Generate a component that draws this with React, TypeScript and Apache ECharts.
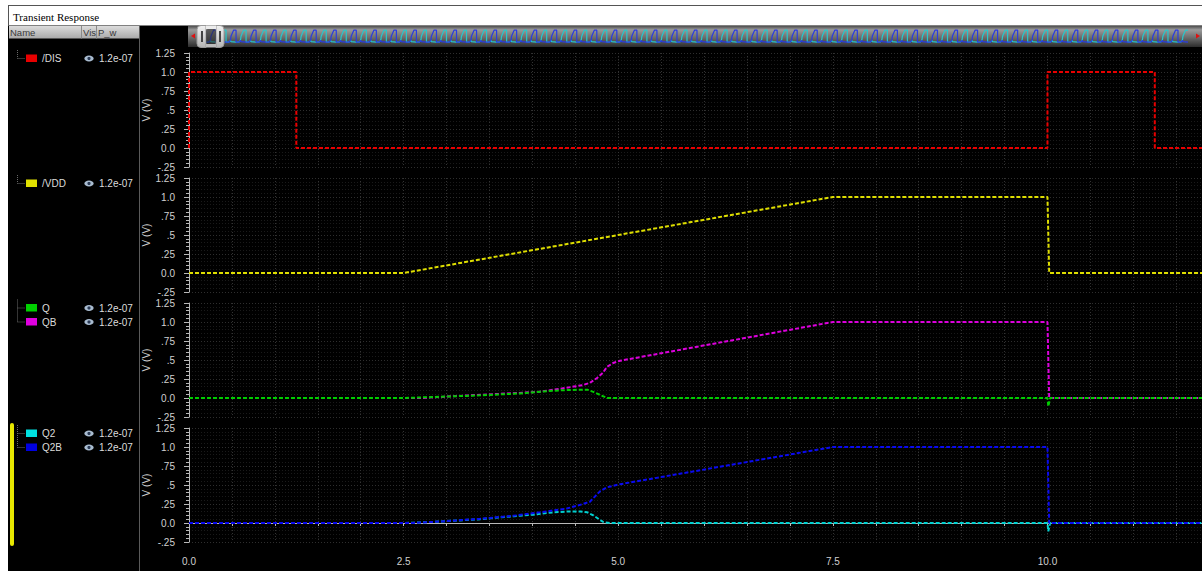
import React, { useEffect, useRef } from "react";
import * as echarts from "echarts";

// ---------------- data ----------------
const timeMax = 11.8;
const xLabelValues = [0, 2.5, 5, 7.5, 10];
const xLabelTexts = ["0.0", "2.5", "5.0", "7.5", "10.0"];
const yTickValues = [-0.25, 0, 0.25, 0.5, 0.75, 1, 1.25];
const yTickTexts = ["-.25", "0.0", ".25", ".5", ".75", "1.0", "1.25"];

const disT = [0, 0, 1.25, 1.25, 10, 10, 11.25, 11.25, 11.8];
const disV = [0, 1, 1, 0, 0, 1, 1, 0, 0];

const vddT = [0, 2.5, 7.5, 10, 10.02, 11.8];
const vddV = [0, 0, 1, 1, 0, 0];

const qT = [0, 2.5, 2.77, 3.39, 3.86, 4.17, 4.4, 4.64, 4.71, 4.79, 4.87, 10, 10.01, 10.03, 11.8];
const qV = [0, 0, 0.01, 0.035, 0.06, 0.09, 0.105, 0.11, 0.08, 0.04, 0, 0, -0.11, 0, 0];

const qbT = [0, 2.7, 3.12, 3.54, 4.06, 4.32, 4.48, 4.59, 4.67, 4.75, 4.82, 4.87, 4.94, 5.02, 7.5, 10, 10.02, 11.8];
const qbV = [0, 0, 0.026, 0.05, 0.08, 0.12, 0.15, 0.17, 0.2, 0.26, 0.33, 0.41, 0.46, 0.49, 1, 1, 0, 0];

const q2T = [0, 2.5, 2.77, 3.39, 3.78, 4.01, 4.24, 4.4, 4.56, 4.64, 4.71, 4.79, 4.83, 4.9, 10, 10.01, 10.03, 11.8];
const q2V = [0, 0, 0.01, 0.05, 0.09, 0.11, 0.14, 0.15, 0.15, 0.14, 0.1, 0.04, 0.01, 0, 0, -0.11, 0, 0];

const q2bT = [0, 2.6, 2.93, 3.39, 3.78, 4.09, 4.4, 4.59, 4.67, 4.73, 4.79, 4.87, 5.02, 7.5, 10, 10.02, 11.8];
const q2bV = [0, 0, 0.02, 0.055, 0.095, 0.14, 0.19, 0.25, 0.28, 0.35, 0.42, 0.47, 0.51, 1, 1, 0, 0];

// overview strip: Q2 / Q2B cycles alternate along the whole run
const overviewCycles = 98;
const overviewPeriod = 10;

const legendNames = ["/DIS", "/VDD", "Q", "QB", "Q2", "Q2B"];
const legendPanels = [0, 1, 2, 2, 3, 3];
const legendValue = "1.2e-07";
const seriesColors = ["#e80000", "#dede00", "#00cc00", "#dc00dc", "#00d0d0", "#0a0af0"];
const swatchColors = ["#e80000", "#e0e000", "#00d000", "#e000e0", "#00e0e0", "#0000e0"];

const titleText = "Transient Response";
const headerTexts = ["Name", "Vis", "P_w"];
const yAxisName = "V (V)";

// ---------------- helpers ----------------
const zip = (t: number[], v: number[]) => t.map((x, i) => [x, v[i]]);

function overviewLine(firstActive: boolean) {
  const active = zip(q2bT, q2bV).filter((p) => p[0] <= overviewPeriod);
  const idle = zip(q2T, q2V).filter((p) => p[0] <= overviewPeriod);
  const out: number[][] = [];
  for (let k = 0; k < overviewCycles; k++) {
    const isActive = (k % 2 === 0) === firstActive;
    const shape = isActive ? active : idle;
    shape.forEach((p) => out.push([p[0] + k * overviewPeriod, p[1]]));
  }
  return out;
}

const FONT = "Liberation Sans";

export default function App() {
  const ref = useRef<HTMLDivElement>(null);

  useEffect(() => {
    if (!ref.current) return;
    const chart = echarts.init(ref.current, null, { renderer: "svg" });

    const panelTops = [53, 178, 303, 428];
    const panelH = 114;
    const gridLeft = 189;

    const grids: any[] = panelTops.map((t) => ({ left: gridLeft, top: t, width: 1202 - gridLeft, height: panelH }));
    grids.push({ left: 206, top: 29, width: 982, height: 15 });

    const xAxes: any[] = panelTops.map((_, i) => ({
      type: "value",
      gridIndex: i,
      min: 0,
      max: timeMax,
      interval: 0.5,
      offset: i === 3 ? 5 : 0,
      axisLine: { show: i === 3, lineStyle: { color: "#b8b8b8", width: 1 } },
      axisTick: { show: i === 3, length: 3, lineStyle: { color: "#b8b8b8" } },
      axisLabel: {
        show: i === 3,
        color: "#d0d0d0",
        fontSize: 10,
        fontFamily: FONT,
        margin: 9,
        showMaxLabel: false,
        formatter: (v: number) => {
          const k = xLabelValues.findIndex((x) => Math.abs(x - v) < 1e-6);
          return k >= 0 ? xLabelTexts[k] : "";
        },
      },
      splitLine: { show: true, lineStyle: { color: "#333333", type: [1, 2], width: 1 } },
    }));
    xAxes.push({ type: "value", gridIndex: 4, min: 0, max: overviewCycles * overviewPeriod, show: false });

    const yAxes: any[] = panelTops.map((_, i) => ({
      type: "value",
      gridIndex: i,
      min: -0.25,
      max: 1.25,
      interval: 0.25,
      offset: 6,
      name: yAxisName,
      nameLocation: "middle",
      nameGap: 32,
      nameMoveOverlap: false,
      nameTextStyle: { color: "#d0d0d0", fontSize: 10, fontFamily: FONT },
      axisLine: { show: true, lineStyle: { color: "#b8b8b8", width: 1 } },
      axisTick: { show: true, length: 5, lineStyle: { color: "#b8b8b8" } },
      minorTick: { show: true, splitNumber: 5, length: 3, lineStyle: { color: "#b8b8b8" } },
      axisLabel: {
        color: "#d0d0d0",
        fontSize: 10,
        fontFamily: FONT,
        margin: 8,
        formatter: (v: number) => {
          const k = yTickValues.findIndex((x) => Math.abs(x - v) < 1e-6);
          return k >= 0 ? yTickTexts[k] : "";
        },
      },
      splitLine: { show: true, lineStyle: { color: "#2e2e2e", type: [1, 2], width: 1 } },
      minorSplitLine: { show: true, lineStyle: { color: "#1a1a1a", type: [1, 2], width: 1 } },
    }));
    yAxes.push({ type: "value", gridIndex: 4, min: -0.15, max: 1.1, show: false });

    const mk = (name: string, idx: number, data: number[][], color: string, z = 2) => ({
      type: "line",
      name,
      xAxisIndex: idx,
      yAxisIndex: idx,
      data,
      showSymbol: false,
      symbol: "none",
      clip: false,
      z,
      lineStyle: { color, width: 2, type: [4, 2] },
    });

    const series: any[] = [
      mk(legendNames[0], 0, zip(disT, disV), seriesColors[0]),
      mk(legendNames[1], 1, zip(vddT, vddV), seriesColors[1]),
      mk(legendNames[3], 2, zip(qbT, qbV), seriesColors[3]),
      mk(legendNames[2], 2, zip(qT, qV), seriesColors[2], 3),
      mk(legendNames[4], 3, zip(q2T, q2V), seriesColors[4], 2),
      mk(legendNames[5], 3, zip(q2bT, q2bV), seriesColors[5], 3),
      {
        type: "line",
        xAxisIndex: 4,
        yAxisIndex: 4,
        data: overviewLine(false),
        showSymbol: false,
        symbol: "none",
        lineStyle: { color: "#26c8cc", width: 1.2 },
        z: 3,
      },
      {
        type: "line",
        xAxisIndex: 4,
        yAxisIndex: 4,
        data: overviewLine(true),
        showSymbol: false,
        symbol: "none",
        lineStyle: { color: "#2a3ce0", width: 1.2 },
        z: 3,
      },
    ];

    // -------- chrome (graphic) --------
    const g: any[] = [];
    g.push({ type: "rect", shape: { x: 0, y: 0, width: 1202, height: 25.5 }, style: { fill: "#ffffff" }, z: 0 });
    g.push({ type: "rect", shape: { x: 0, y: 0, width: 8, height: 571 }, style: { fill: "#ffffff" }, z: 0 });
    g.push({ type: "line", shape: { x1: 8, y1: 5.5, x2: 1202, y2: 5.5 }, style: { stroke: "#555", lineWidth: 1 }, z: 1 });
    g.push({ type: "line", shape: { x1: 8.5, y1: 5, x2: 8.5, y2: 26 }, style: { stroke: "#555", lineWidth: 1 }, z: 1 });
    g.push({
      type: "text",
      x: 13,
      y: 17,
      style: { text: titleText, fill: "#000", font: "11px 'Liberation Serif'", verticalAlign: "middle" },
      z: 1,
    });
    // header
    g.push({
      type: "rect",
      shape: { x: 9, y: 26, width: 130, height: 12.5 },
      style: {
        fill: new echarts.graphic.LinearGradient(0, 0, 0, 1, [
          { offset: 0, color: "#dcdcdc" },
          { offset: 1, color: "#a9a9a9" },
        ]),
      },
      z: 1,
    });
    [10, 83, 98].forEach((x, i) =>
      g.push({
        type: "text",
        x,
        y: 32,
        style: { text: headerTexts[i], fill: "#3a3a3a", font: `9.5px '${FONT}'`, verticalAlign: "middle" },
        z: 2,
      })
    );
    [81.5, 96.5].forEach((x) =>
      g.push({ type: "line", shape: { x1: x, y1: 26, x2: x, y2: 38.5 }, style: { stroke: "#8a8a8a", lineWidth: 1 }, z: 2 })
    );
    g.push({ type: "line", shape: { x1: 139.5, y1: 26, x2: 139.5, y2: 571 }, style: { stroke: "#5a5a5a", lineWidth: 1 }, z: 1 });

    // legend rows
    const rowStartY = [58, 183, 307.5, 433];
    const rowGap = 14;
    const counter: Record<number, number> = {};
    const groupRows: Record<number, number[]> = {};
    legendNames.forEach((name, i) => {
      const p = legendPanels[i];
      const k = counter[p] || 0;
      counter[p] = k + 1;
      const y = rowStartY[p] + k * rowGap;
      (groupRows[p] = groupRows[p] || []).push(y);
      g.push({ type: "line", shape: { x1: 17.5, y1: y + 0.5, x2: 25, y2: y + 0.5 }, style: { stroke: "#6a6a6a", lineWidth: 1, lineDash: [1, 1] }, z: 2 });
      g.push({ type: "rect", shape: { x: 26, y: y - 3.5, width: 11, height: 7.5 }, style: { fill: swatchColors[i] }, z: 2 });
      g.push({
        type: "text",
        x: 42,
        y: y + 0.5,
        style: { text: name, fill: "#dcdcdc", font: `10px '${FONT}'`, verticalAlign: "middle" },
        z: 2,
      });
      g.push({ type: "ellipse", shape: { cx: 89, cy: y + 0.5, rx: 4.6, ry: 3 }, style: { fill: "#a9bcd0" }, z: 2 });
      g.push({ type: "circle", shape: { cx: 89, cy: y + 0.5, r: 1.6 }, style: { fill: "#2a3a55" }, z: 3 });
      g.push({
        type: "text",
        x: 99,
        y: y + 0.5,
        style: { text: legendValue, fill: "#dcdcdc", font: `10px '${FONT}'`, verticalAlign: "middle" },
        z: 2,
      });
    });
    Object.keys(groupRows).forEach((key) => {
      const ys = groupRows[Number(key)];
      g.push({
        type: "line",
        shape: { x1: 17.5, y1: ys[0] - 8, x2: 17.5, y2: ys[ys.length - 1] + 0.5 },
        style: { stroke: "#6a6a6a", lineWidth: 1, lineDash: [1, 1] },
        z: 2,
      });
    });
    // selected group marker
    g.push({ type: "rect", shape: { x: 10, y: 423, width: 4, height: 123, r: 2 }, style: { fill: "#e8e800" }, z: 2 });

    // overview strip
    g.push({
      type: "rect",
      shape: { x: 188, y: 26, width: 1014, height: 21 },
      style: {
        fill: new echarts.graphic.LinearGradient(0, 0, 0, 1, [
          { offset: 0, color: "#4e4e4e" },
          { offset: 0.18, color: "#9a9a9a" },
          { offset: 0.55, color: "#6c6c6c" },
          { offset: 1, color: "#2c2c2c" },
        ]),
      },
      z: 0,
    });
    g.push({ type: "polygon", shape: { points: [[191, 36], [195, 33.5], [195, 38.5]] }, style: { fill: "#e01010" }, z: 5 });
    g.push({ type: "polygon", shape: { points: [[1200, 36], [1196, 33.5], [1196, 38.5]] }, style: { fill: "#e01010" }, z: 5 });
    // handle (left and right grips opaque, window translucent)
    const handleFill = new echarts.graphic.LinearGradient(0, 0, 0, 1, [
      { offset: 0, color: "#f2f2f2" },
      { offset: 1, color: "#b4b4b4" },
    ]);
    g.push({
      type: "rect",
      shape: { x: 197, y: 25.5, width: 9, height: 22, r: [4, 0, 0, 4] },
      style: { fill: handleFill, stroke: "#9a9a9a", lineWidth: 1 },
      z: 10,
    });
    g.push({
      type: "rect",
      shape: { x: 216, y: 25.5, width: 8, height: 22, r: [0, 4, 4, 0] },
      style: { fill: handleFill, stroke: "#9a9a9a", lineWidth: 1 },
      z: 10,
    });
    g.push({ type: "rect", shape: { x: 206, y: 25.5, width: 10, height: 3.5 }, style: { fill: "#ededed" }, z: 10 });
    g.push({ type: "rect", shape: { x: 206, y: 44, width: 10, height: 3.5 }, style: { fill: "#bbbbbb" }, z: 10 });
    g.push({ type: "rect", shape: { x: 206, y: 29, width: 10, height: 15, r: 2 }, style: { fill: "rgba(40,40,40,0.55)" }, z: 10 });
    g.push({ type: "rect", shape: { x: 201, y: 31, width: 2, height: 11 }, style: { fill: "#444" }, z: 11 });
    g.push({ type: "rect", shape: { x: 219, y: 31, width: 2, height: 11 }, style: { fill: "#444" }, z: 11 });

    chart.setOption({
      animation: false,
      backgroundColor: "#000000",
      textStyle: { fontFamily: FONT },
      grid: grids,
      xAxis: xAxes,
      yAxis: yAxes,
      series,
      graphic: { elements: g },
    });

    return () => chart.dispose();
  }, []);

  return (
    <div
      ref={ref}
      style={{ position: "fixed", left: 0, top: 0, width: 1202, height: 571, background: "#fff" }}
    />
  );
}
